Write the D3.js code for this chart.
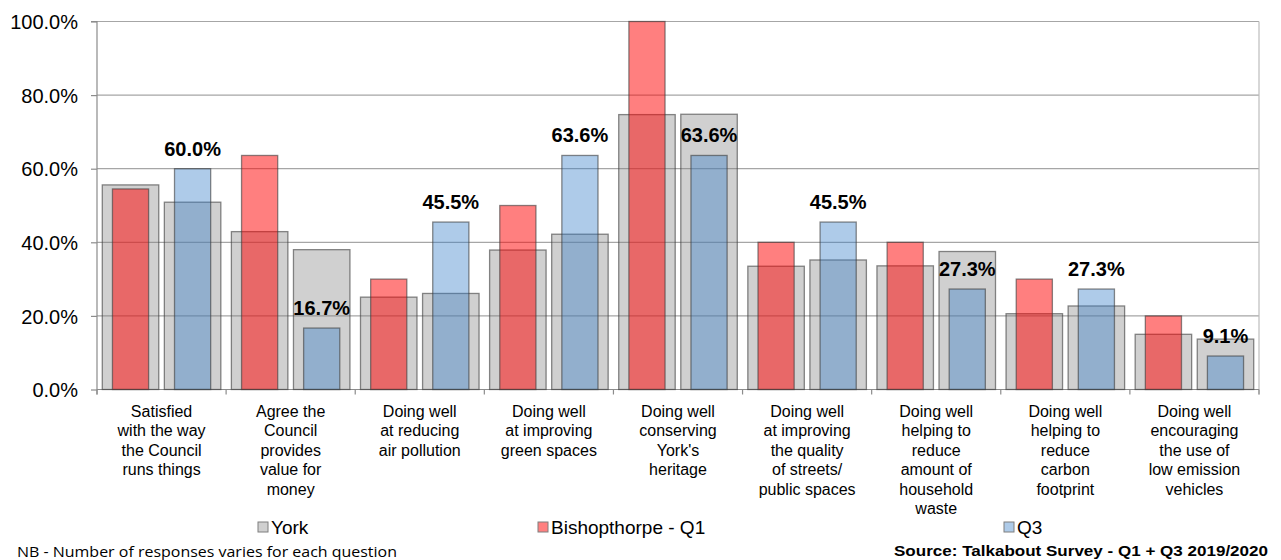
<!DOCTYPE html>
<html>
<head>
<meta charset="utf-8">
<script src="https://cdn.jsdelivr.net/npm/d3@7"></script>
<style>
  html, body { margin: 0; padding: 0; background: #fff; }
  svg { display: block; }
  text { font-family: "Liberation Sans", Arial, sans-serif; fill: #000; }
</style>
</head>
<body>
<svg id="chart" width="1281" height="560"></svg>
<script>
// ---- data ----
const categories = [
  ["Satisfied", "with the way", "the Council", "runs things"],
  ["Agree the", "Council", "provides", "value for", "money"],
  ["Doing well", "at reducing", "air pollution"],
  ["Doing well", "at improving", "green spaces"],
  ["Doing well", "conserving", "York's", "heritage"],
  ["Doing well", "at improving", "the quality", "of streets/", "public spaces"],
  ["Doing well", "helping to", "reduce", "amount of", "household", "waste"],
  ["Doing well", "helping to", "reduce", "carbon", "footprint"],
  ["Doing well", "encouraging", "the use of", "low emission", "vehicles"]
];
const yorkQ1   = [55.6, 42.9, 25.1, 37.9, 74.7, 33.5, 33.6, 20.6, 15.0];
const bishopQ1 = [54.5, 63.6, 30.0, 50.0, 100.0, 40.0, 40.0, 30.0, 20.0];
const yorkQ3   = [50.9, 38.0, 26.1, 42.2, 74.8, 35.2, 37.5, 22.7, 13.7];
const bishopQ3 = [60.0, 16.7, 45.5, 63.6, 63.6, 45.5, 27.3, 27.3, 9.1];
const yTicks = [0, 20, 40, 60, 80, 100];
const legendLabels = ["York", "Bishopthorpe - Q1", "Q3"];
const slots = ["Q1", "Q3"];
const noteText = "NB - Number of responses varies for each question";
const sourceText = "Source: Talkabout Survey - Q1 + Q3 2019/2020";

// ---- layout ----
const svg = d3.select("#chart");
const pLeft = 97, pRight = 1259, pTop = 21.5, pBottom = 389.5;

const x0 = d3.scaleBand().domain(d3.range(categories.length)).range([pLeft, pRight]).padding(0);
const x1 = d3.scaleBand().domain(slots).range([0, x0.bandwidth()]).paddingInner(0.09).paddingOuter(0.085);
const y = d3.scaleLinear().domain([0, 100]).range([pBottom, pTop]);

const grayFill = "rgba(128,128,128,0.37)";
const redFill = "rgba(255,0,0,0.5)";
const blueFill = "rgba(52,125,200,0.4)";
const strokeCol = "rgba(60,60,60,0.6)";

// gridlines
svg.append("g").selectAll("line").data(yTicks.filter(d => d > 0)).join("line")
  .attr("x1", pLeft).attr("x2", pRight)
  .attr("y1", d => y(d)).attr("y2", d => y(d))
  .attr("stroke", "#a6a6a6").attr("stroke-width", 1.2);

// right border
svg.append("line").attr("x1", pRight).attr("x2", pRight).attr("y1", pTop).attr("y2", pBottom + 5)
  .attr("stroke", "#bcbcbc").attr("stroke-width", 1.2);

// y axis
const yAxis = d3.axisLeft(y).tickValues(yTicks).tickSize(6).tickFormat(d => d.toFixed(1) + "%");
const gy = svg.append("g").attr("transform", `translate(${pLeft},0)`).call(yAxis);
gy.select(".domain").attr("stroke", "#8c8c8c").attr("stroke-width", 1.2).attr("d", `M-6,${pTop}H0V${pBottom + 5}`);
gy.selectAll(".tick line").attr("stroke", "#8c8c8c").attr("stroke-width", 1.2);
gy.selectAll(".tick text").attr("x", -19).attr("dy", "0.36em")
  .style("font-size", "20px").style("font-family", "'Liberation Sans', Arial, sans-serif").attr("fill", "#000");

// x axis
const xBounds = d3.range(categories.length + 1).map(i => pLeft + i * x0.step());
svg.append("line").attr("x1", pLeft).attr("x2", pRight).attr("y1", pBottom).attr("y2", pBottom)
  .attr("stroke", "#8c8c8c").attr("stroke-width", 1.2);
svg.append("g").selectAll("line").data(xBounds).join("line")
  .attr("x1", d => d).attr("x2", d => d).attr("y1", pBottom).attr("y2", pBottom + 5)
  .attr("stroke", "#8c8c8c").attr("stroke-width", 1.2);

// bars
const groups = svg.append("g").selectAll("g").data(categories).join("g")
  .attr("transform", (d, i) => `translate(${x0(i)},0)`);

const narrow = x1.bandwidth() * 0.64;
function drawBar(g, slot, val, fill, wide) {
  const w = wide ? x1.bandwidth() : narrow;
  const cx = x1(slot) + x1.bandwidth() / 2;
  g.append("rect")
    .attr("x", cx - w / 2).attr("width", w)
    .attr("y", y(val)).attr("height", y(0) - y(val))
    .attr("fill", fill).attr("stroke", strokeCol).attr("stroke-width", 1.3);
}
groups.each(function(d, i) {
  const g = d3.select(this);
  drawBar(g, "Q1", yorkQ1[i], grayFill, true);
  drawBar(g, "Q1", bishopQ1[i], redFill, false);
  drawBar(g, "Q3", yorkQ3[i], grayFill, true);
  drawBar(g, "Q3", bishopQ3[i], blueFill, false);
  g.append("text")
    .attr("x", x1("Q3") + x1.bandwidth() / 2)
    .attr("y", y(bishopQ3[i]) - 13)
    .attr("text-anchor", "middle")
    .style("font-size", "20px").style("font-weight", "bold")
    .text(bishopQ3[i].toFixed(1) + "%");
  // category label
  const t = g.append("text").attr("text-anchor", "middle").style("font-size", "16px");
  d.forEach((line, k) => {
    t.append("tspan").attr("x", x0.bandwidth() / 2).attr("y", 416.5 + k * 19.5).text(line);
  });
});

// legend
const legendX = [258, 538, 1004];
const legendFill = ["#d0d0d0", "#ff8080", "#aecbe9"];
const lg = svg.append("g").selectAll("g").data(legendLabels).join("g")
  .attr("transform", (d, i) => `translate(${legendX[i]},522)`);
lg.append("rect").attr("x", 0).attr("y", 0).attr("width", 10).attr("height", 10)
  .attr("fill", (d, i) => legendFill[i]).attr("stroke", "#7f7f7f").attr("stroke-width", 1);
lg.append("text").attr("x", 13).attr("y", 12).style("font-size", "19px").text(d => d);

// footnotes
svg.append("text").attr("x", 17).attr("y", 557)
  .style("font-family", "'Open Sans', 'Noto Sans', sans-serif").style("font-size", "15px")
  .attr("textLength", 380).attr("lengthAdjust", "spacingAndGlyphs")
  .text(noteText);
svg.append("text").attr("x", 1268).attr("y", 556).attr("text-anchor", "end")
  .style("font-size", "15px").style("font-weight", "bold")
  .attr("textLength", 374).attr("lengthAdjust", "spacingAndGlyphs")
  .text(sourceText);
</script>
</body>
</html>
